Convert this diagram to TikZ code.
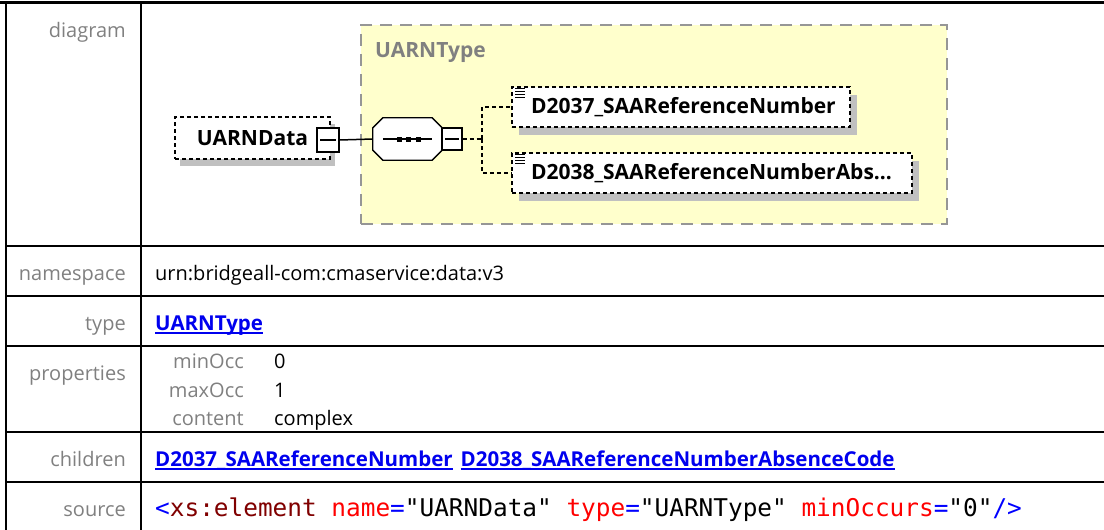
\documentclass[tikz,border=0pt]{standalone}
\usepackage{fontspec}
\setmainfont{Open Sans}
\newfontfamily\srcfont{DejaVu Sans Mono}
\usetikzlibrary{shadows}
\definecolor{lblgray}{RGB}{128,128,128}
\definecolor{linkblue}{RGB}{0,0,238}
\definecolor{typeyellow}{RGB}{255,255,204}
\definecolor{dashgray}{RGB}{150,150,150}
\definecolor{shadowgray}{RGB}{192,192,192}
\definecolor{tagred}{RGB}{128,0,0}
\definecolor{attrred}{RGB}{255,0,0}
\definecolor{markblue}{RGB}{0,0,255}
\newcommand\linktext[1]{\setbox0\hbox{#1}\rlap{\rule[-3.5pt]{\wd0}{1.5pt}}\box0}

\begin{document}
\begin{tikzpicture}[x=1pt,y=-1pt,
    every node/.style={inner sep=0pt,font=\fontsize{20}{24}\selectfont},
    lbl/.style={anchor=base east,text=lblgray},
    val/.style={anchor=base west},
    lnk/.style={anchor=base west,text=linkblue,font=\fontsize{20.5}{24}\selectfont\bfseries},
    gridline/.style={line width=2pt},
    typebox/.style={draw=dashgray,line width=2pt,dash pattern=on 12pt off 8pt,fill=typeyellow},
    elembox/.style={draw,line width=1.3pt,dash pattern=on 4pt off 3pt,fill=white,
        font=\fontsize{21}{25}\selectfont\bfseries},
    childbox/.style={elembox,align=left,inner xsep=19pt,
        drop shadow={shadow xshift=7pt,shadow yshift=-8pt,fill=shadowgray,opacity=1}},
    minusbox/.style={draw,line width=1.3pt,fill=white},
    seqline/.style={draw,line width=1.3pt,fill=white},
    solidline/.style={line width=1.5pt},
    dashline/.style={line width=1.3pt,dash pattern=on 4pt off 3pt}]
    \useasboundingbox (0,0) rectangle (1104,530);
    \draw[gridline,line width=3pt] (0,2) -- (1104,2);
    \draw[gridline] (6,2) -- (6,530);
    \draw[gridline] (141,2) -- (141,530);
    \draw[gridline] (6,246) -- (1104,246);
    \draw[gridline] (6,296) -- (1104,296);
    \draw[gridline] (6,346) -- (1104,346);
    \draw[gridline] (6,432) -- (1104,432);
    \draw[gridline] (6,482) -- (1104,482);
    \node[lbl] (lbldiagram) at (126,37) {diagram};
    \node[lbl] (lblns) at (126,280) {namespace};
    \node[val] (valns) at (155,280) {urn:bridgeall-com:cmaservice:data:v3};
    \node[lbl] (lbltype) at (126,330) {type};
    \node[lnk] (valtype) at (155,330) {\linktext{UARNType}};
    \node[lbl] (lblprops) at (126,380) {properties};
    \node[lbl] (lblmin) at (244,368) {minOcc};
    \node[val] (valmin) at (274,368) {0};
    \node[lbl] (lblmax) at (244,397) {maxOcc};
    \node[val] (valmax) at (274,397) {1};
    \node[lbl] (lblcontent) at (244,425) {content};
    \node[val] (valcontent) at (274,425) {complex};
    \node[lbl] (lblchildren) at (126,466) {children};
    \node[lnk] (valchildren) at (155,466) {\linktext{D2037\_SAAReferenceNumber}\hspace{8pt}\linktext{D2038\_SAAReferenceNumberAbsenceCode}};
    \node[lbl] (lblsource) at (126,516) {source};
    \node[val,font=\srcfont\fontsize{24.4}{28}\selectfont] (valsource) at (155,516) {\textcolor{markblue}{<}\textcolor{tagred}{xs:element} \textcolor{attrred}{name}\textcolor{markblue}{=}"UARNData" \textcolor{attrred}{type}\textcolor{markblue}{=}"UARNType" \textcolor{attrred}{minOccurs}\textcolor{markblue}{=}"0"\textcolor{markblue}{/>}};
    \node[typebox,minimum width=586pt,minimum height=199pt] (typebox) at (654,124.5) {};
    \node[anchor=base west,text=lblgray,font=\fontsize{21}{25}\selectfont\bfseries] (typename) at (375,57) {UARNType};
    \node[elembox,minimum width=155pt,minimum height=42pt,
        drop shadow={shadow xshift=5pt,shadow yshift=-7pt,fill=shadowgray,opacity=1}] (elem) at (252.5,138) {UARNData};
    \node[minusbox,minimum width=22pt,minimum height=24pt] (elemminus) at (328,140) {};
    \draw[solidline] ([xshift=4pt]elemminus.west) -- ([xshift=-4pt]elemminus.east);
    \node[minimum width=69pt,minimum height=42pt] (seq) at (407.5,139) {};
    \fill[shadowgray,shift={(8,8)}] ([xshift=10pt]seq.north west) -- ([xshift=-10pt]seq.north east)
        -- ([yshift=-10pt]seq.north east) -- ([yshift=10pt]seq.south east) -- ([xshift=-10pt]seq.south east)
        -- ([xshift=10pt]seq.south west) -- ([yshift=10pt]seq.south west) -- ([yshift=-10pt]seq.north west) -- cycle;
    \draw[seqline] ([xshift=10pt]seq.north west) -- ([xshift=-10pt]seq.north east)
        -- ([yshift=-10pt]seq.north east) -- ([yshift=10pt]seq.south east) -- ([xshift=-10pt]seq.south east)
        -- ([xshift=10pt]seq.south west) -- ([yshift=10pt]seq.south west) -- ([yshift=-10pt]seq.north west) -- cycle;
    \draw[solidline] ([xshift=10pt]seq.west) -- ([xshift=-10pt]seq.east);
    \foreach \dx in {399,408,418}
        \fill (\dx-2.5,136.5) rectangle ++(5,5);
    \node[minusbox,minimum width=20pt,minimum height=22pt] (seqminus) at (452,139) {};
    \draw[solidline] ([xshift=4pt]seqminus.west) -- ([xshift=-4pt]seqminus.east);
    \node[childbox,text width=300pt,minimum height=40pt] (child1) at (681,107) {D2037\_SAAReferenceNumber};
    \node[childbox,text width=362pt,minimum height=40pt] (child2) at (712,173) {D2038\_SAAReferenceNumberAbs...};
    \foreach \k in {0,...,3} {
        \draw[line width=1pt] ([xshift=4pt,yshift=-2.5-3*\k]child1.north west) -- ++(10,0);
        \draw[line width=1pt] ([xshift=4pt,yshift=-2.5-3*\k]child2.north west) -- ++(10,0);
    }
    \draw[solidline] (elemminus.east) -- (seq.west);
    \coordinate (fork) at (482,139);
    \draw[dashline] (seqminus.east) -- (fork);
    \draw[dashline] (fork) |- (child1.west);
    \draw[dashline] (fork) |- (child2.west);
\end{tikzpicture}
\end{document}
